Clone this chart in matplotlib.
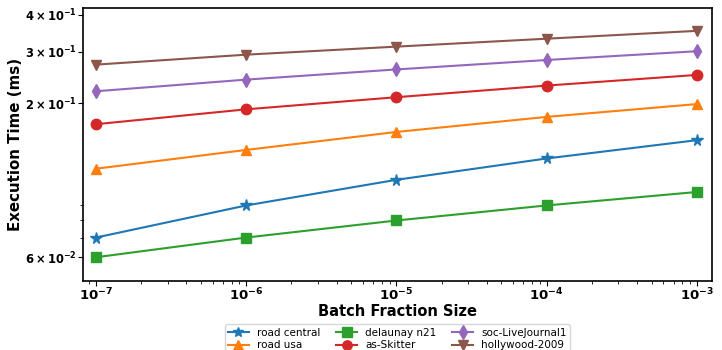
import matplotlib
matplotlib.use("Agg")
import matplotlib.pyplot as plt
from matplotlib.ticker import FixedLocator, FixedFormatter, NullFormatter, LogLocator

batch_fractions = [1e-7, 1e-6, 1e-5, 1e-4, 1e-3]
x_labels = [r'$\mathbf{10^{-7}}$', r'$\mathbf{10^{-6}}$', r'$\mathbf{10^{-5}}$',
            r'$\mathbf{10^{-4}}$', r'$\mathbf{10^{-3}}$']

road_central = [0.070, 0.090, 0.110, 0.130, 0.150]
road_usa = [0.120, 0.139, 0.160, 0.180, 0.199]
delaunay_n21 = [0.060, 0.070, 0.080, 0.090, 0.100]
as_skitter = [0.170, 0.191, 0.210, 0.230, 0.250]
soc_livejournal1 = [0.220, 0.241, 0.261, 0.281, 0.301]
hollywood_2009 = [0.271, 0.293, 0.312, 0.332, 0.353]

series = [
    ("road central", road_central, "*", "#1f77b4"),
    ("road usa", road_usa, "^", "#ff7f0e"),
    ("delaunay n21", delaunay_n21, "s", "#2ca02c"),
    ("as-Skitter", as_skitter, "o", "#d62728"),
    ("soc-LiveJournal1", soc_livejournal1, "d", "#9467bd"),
    ("hollywood-2009", hollywood_2009, "v", "#8c564b"),
]

y_major = [0.06, 0.2, 0.3, 0.4]
y_major_labels = [r'$\mathbf{6\times10^{-2}}$', r'$\mathbf{2\times10^{-1}}$',
                  r'$\mathbf{3\times10^{-1}}$', r'$\mathbf{4\times10^{-1}}$']
y_minor = [0.07, 0.08, 0.09]

fig = plt.figure(figsize=(7.22, 3.5), dpi=100)
ax = fig.add_axes([0.115, 0.197, 0.871, 0.780])

for name, vals, mk, col in series:
    ax.plot(batch_fractions, vals, marker=mk, color=col, label=name,
            linewidth=1.5, markersize=7.5 if mk != "*" else 8.5)

ax.set_xscale("log")
ax.set_yscale("log")
ax.set_xlim(8.2e-8, 1.26e-3)
ax.set_ylim(0.0498, 0.422)

ax.xaxis.set_major_locator(FixedLocator(batch_fractions))
ax.xaxis.set_major_formatter(FixedFormatter(x_labels))
ax.xaxis.set_minor_locator(LogLocator(base=10, subs=range(2, 10), numticks=20))
ax.xaxis.set_minor_formatter(NullFormatter())

ax.yaxis.set_major_locator(FixedLocator(y_major))
ax.yaxis.set_major_formatter(FixedFormatter(y_major_labels))
ax.yaxis.set_minor_locator(FixedLocator(y_minor))
ax.yaxis.set_minor_formatter(NullFormatter())

ax.tick_params(axis="x", which="major", labelsize=9.5, pad=0.5)
ax.tick_params(axis="y", which="major", labelsize=8.3, pad=1)
for s in ax.spines.values():
    s.set_linewidth(1.2)

ax.set_xlabel("Batch Fraction Size", fontsize=10.5, fontweight="bold")
ax.set_ylabel("Execution Time (ms)", fontsize=10.8, fontweight="bold")
ax.xaxis.set_label_coords(0.5, -0.085)
ax.yaxis.set_label_coords(-0.095, 0.5)

ax.legend(loc="upper center", bbox_to_anchor=(0.5, -0.14), ncol=3,
          fontsize=7.5, handlelength=2.0, columnspacing=1.5,
          borderpad=0.3, labelspacing=0.25, frameon=True, markerscale=0.9)

fig.savefig("out.png", dpi=100)
